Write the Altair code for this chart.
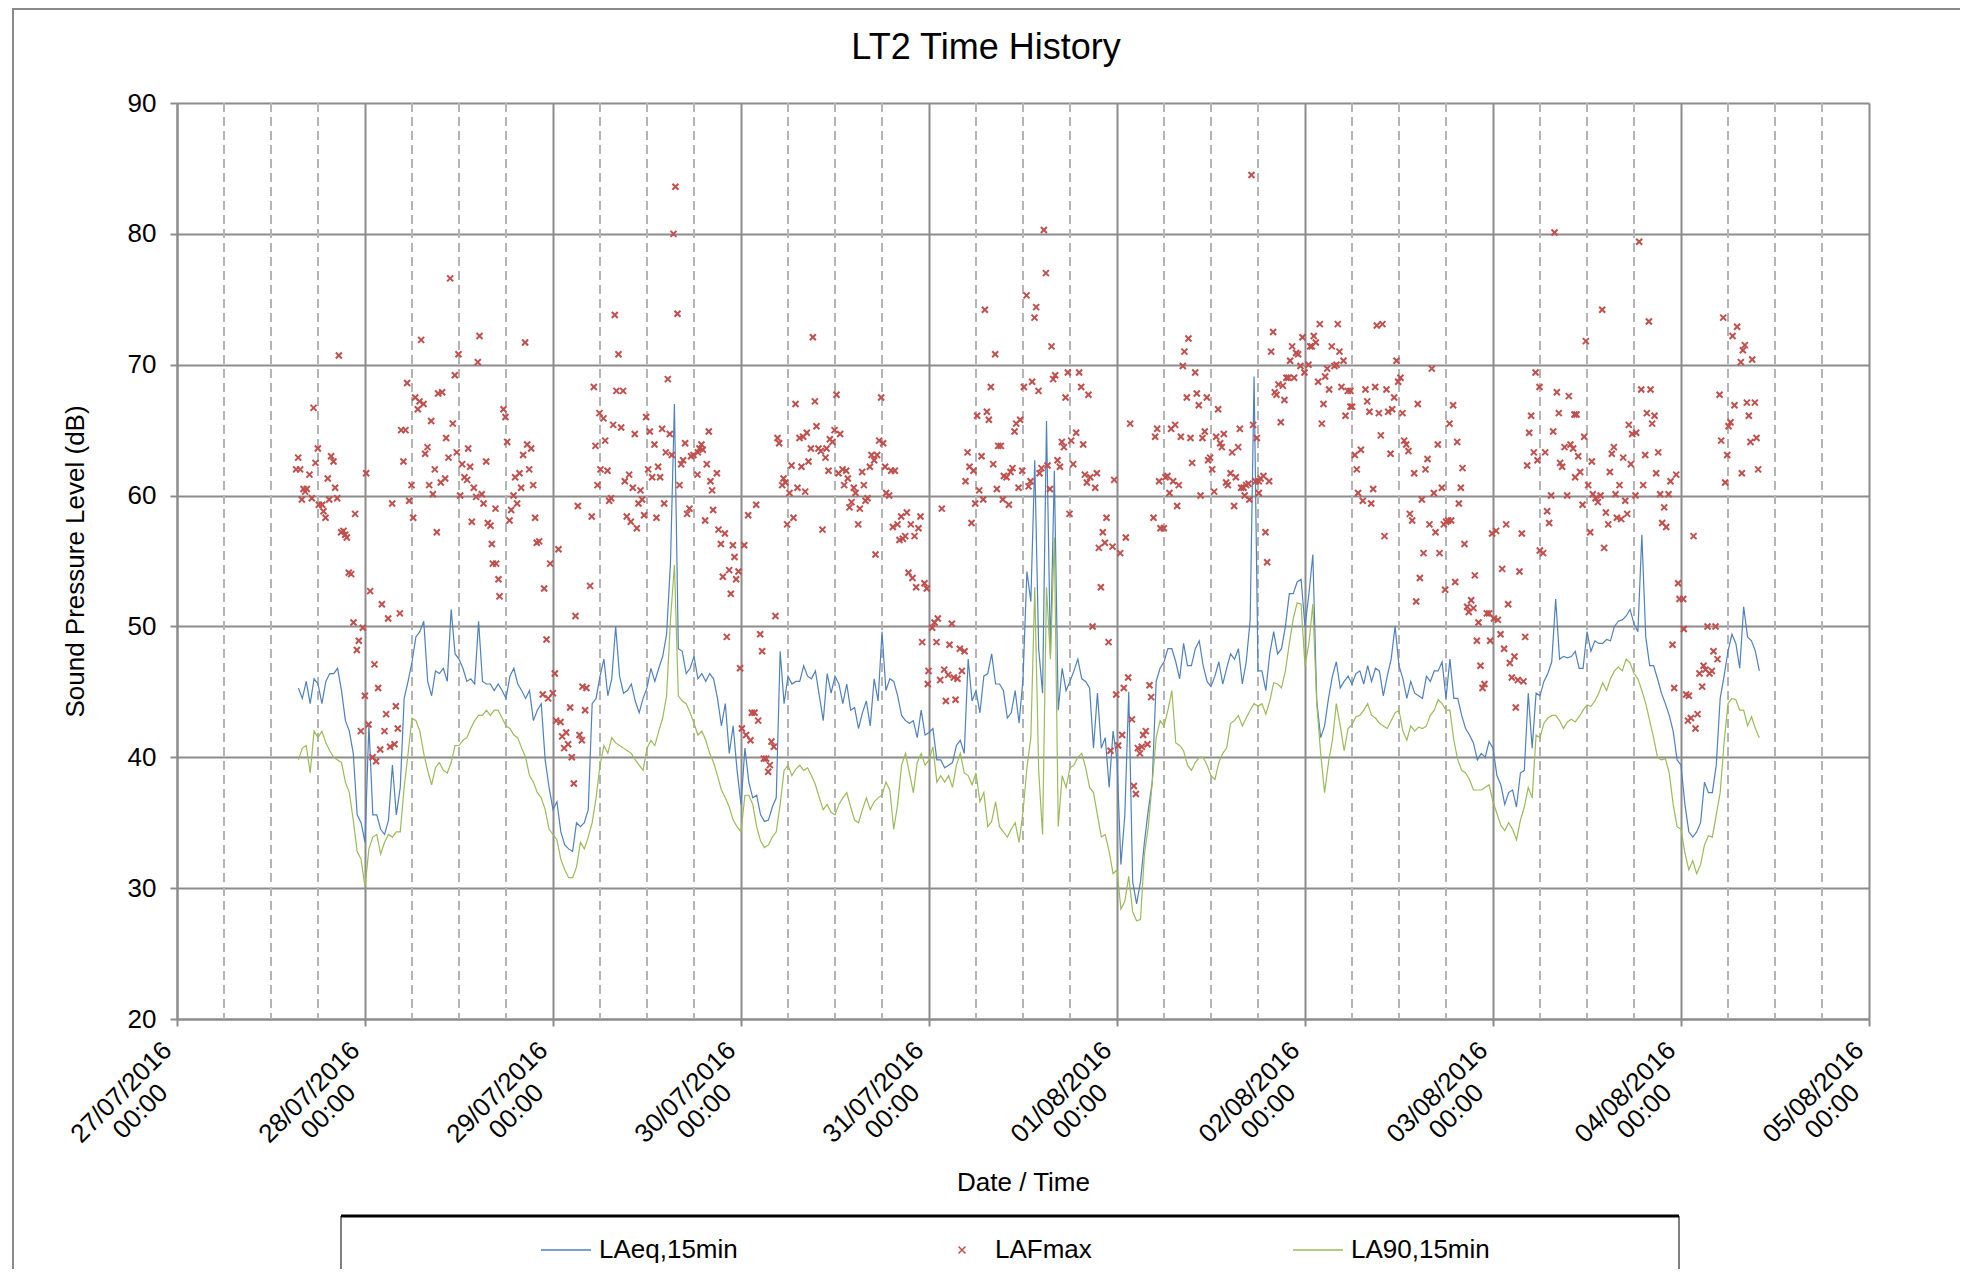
import altair as alt
import pandas as pd

# ---------------- data ----------------
# Line series: one value every 30 minutes, first value at 27/07/2016 15:30
# (hours are counted from 28/07/2016 00:00)
START_HOUR = -8.5
STEP_HOURS = 0.5

LAEQ = [
    45.3, 44.5, 45.8, 44.1, 46.0, 45.6, 44.1, 45.8, 46.4, 46.4, 46.8, 45.1, 42.8, 42.0, 40.3, 35.6, 35.0, 33.5, 42.5, 35.6,
    35.6, 34.5, 34.1, 35.2, 39.4, 35.6, 37.7, 44.5, 45.8, 47.3, 49.2, 49.6, 50.4, 45.8, 44.7, 46.6, 46.4, 46.8, 45.8, 51.3,
    47.9, 47.5, 46.8, 45.8, 46.0, 45.6, 50.4, 45.8, 45.6, 45.6, 45.1,
    45.6, 45.1, 44.5, 46.2, 46.8, 45.6, 45.1, 44.5, 45.1, 42.8, 43.6, 44.1, 39.8, 37.7, 36.0, 36.6, 34.3, 33.3, 33.0, 32.8,
    35.0, 34.7, 35.0, 36.0, 44.1, 44.5, 46.2, 47.5, 44.7, 46.0, 50.0, 46.2, 44.9, 45.1, 45.6, 44.3, 43.4, 44.5, 45.3, 46.8,
    45.8, 46.8, 47.7, 49.4, 54.9, 67.0, 48.3, 48.1, 46.4, 46.8, 47.7, 46.0, 46.4, 45.8, 46.4,
    46.0, 44.5, 42.4, 44.1, 40.3, 42.4, 39.0, 36.4, 40.7, 38.1, 36.9, 37.1, 35.6, 35.1, 35.2, 36.2, 36.9, 48.1, 44.1, 46.2,
    45.6, 45.8, 45.8, 47.0, 46.2, 46.0, 46.6, 44.7, 42.8, 46.4, 44.9, 46.2, 45.6, 44.1, 45.6, 43.6, 43.8, 42.2, 43.4, 44.3,
    42.4, 46.0, 44.3, 49.6, 45.1, 46.0, 45.8, 44.7, 43.2, 42.8, 42.6, 42.8, 41.5, 43.6, 41.7,
    41.9, 42.2, 39.8, 39.8, 39.2, 39.4, 39.6, 40.9, 41.3, 40.3, 47.5, 44.3, 45.1, 43.4, 46.2, 46.4, 47.9, 45.6, 45.6, 45.1,
    43.0, 43.4, 45.1, 42.6, 46.0, 54.2, 51.9, 62.7, 48.3, 44.9, 65.7, 47.9, 61.9, 43.6, 46.8, 45.1, 45.8, 46.6, 47.5, 46.0,
    45.8, 45.3, 40.7, 44.9, 40.7, 41.5, 37.7, 42.0, 39.8, 31.8, 35.6, 45.0, 30.5, 28.8, 30.5,
    33.5, 36.0, 38.1, 45.8, 46.8, 47.3, 48.3, 48.3, 47.3, 46.0, 48.7, 47.0, 47.0, 48.3, 48.9, 47.0, 45.8, 45.4, 46.2, 47.3,
    45.6, 46.8, 47.9, 47.5, 48.3, 45.6, 47.3, 50.5, 69.1, 46.6, 46.6, 45.1, 47.9, 49.6, 47.9, 48.3, 50.0, 52.5, 52.5, 53.4,
    53.6, 50.0, 52.5, 55.5, 44.3, 41.5, 42.4, 44.5, 46.2, 47.3, 45.3, 45.8, 46.2, 45.6, 46.4,
    46.6, 45.6, 47.0, 45.8, 46.8, 46.6, 44.7, 46.2, 47.5, 50.0, 47.0, 46.0, 44.5, 45.8, 44.9, 44.7, 44.5, 46.2, 45.8, 46.6,
    46.6, 47.3, 44.5, 47.5, 44.5, 44.5, 43.2, 42.2, 41.7, 41.1, 39.8, 40.3, 40.0, 41.2, 40.7, 38.6, 37.9, 36.4, 37.3, 37.5,
    36.2, 38.8, 39.0, 44.9, 40.7, 44.9, 44.7, 45.8, 46.4, 47.3, 52.1, 47.5, 47.7, 47.6, 47.7,
    48.1, 46.8, 46.8, 49.6, 48.1, 48.9, 48.7, 48.7, 49.0, 48.9, 50.0, 50.4, 50.5, 50.8, 51.3, 50.2, 49.6, 57.0, 49.2, 47.0,
    47.0, 46.0, 44.9, 44.1, 43.2, 42.0, 39.8, 39.4, 36.4, 34.3, 33.9, 34.3, 35.0, 38.1, 37.3, 37.3, 39.4, 44.5, 46.2, 48.1,
    49.4, 48.7, 46.8, 51.5, 49.2, 48.9, 48.1, 46.6,
]

LA90 = [
    39.8, 40.7, 40.9, 38.8, 42.0, 41.5, 42.0, 41.1, 40.5, 40.0, 39.8, 39.6, 38.1, 37.3, 35.2, 32.8, 32.2, 30.1, 33.0, 33.9,
    34.1, 32.6, 33.5, 34.1, 33.9, 34.3, 34.3, 37.7, 40.3, 43.0, 42.8, 42.0, 40.3, 39.0, 37.9, 39.2, 39.6, 39.0, 38.8, 39.6,
    40.9, 40.9, 41.3, 41.5, 42.2, 42.8, 43.2, 43.2, 43.6, 43.2, 43.6,
    43.6, 43.0, 42.4, 42.2, 41.7, 41.5, 40.7, 40.0, 38.6, 38.1, 37.3, 36.9, 36.0, 34.5, 34.1, 33.7, 32.2, 31.4, 30.8, 30.8,
    31.6, 33.5, 33.0, 33.9, 35.0, 36.9, 39.4, 40.9, 40.3, 41.5, 41.1, 40.9, 40.7, 40.5, 40.3, 39.8, 39.4, 39.0, 40.7, 41.3,
    40.9, 42.0, 43.0, 44.7, 50.5, 54.7, 44.7, 44.3, 44.1, 43.4, 42.6, 41.7, 42.0, 41.3, 40.3,
    39.6, 38.6, 37.5, 36.9, 36.2, 35.2, 34.7, 34.3, 37.1, 37.1, 36.4, 34.7, 33.6, 33.1, 33.3, 33.9, 34.3, 36.4, 39.0, 39.4,
    38.6, 39.1, 39.4, 39.0, 39.2, 38.6, 37.9, 36.9, 36.0, 36.4, 35.8, 35.6, 36.4, 36.9, 37.3, 36.2, 35.2, 35.0, 36.0, 36.9,
    36.0, 36.6, 36.9, 37.1, 38.1, 37.5, 34.5, 36.4, 39.4, 40.3, 38.8, 37.3, 39.6, 40.3, 39.4,
    39.8, 40.8, 38.1, 38.6, 38.1, 38.6, 37.7, 39.4, 40.3, 38.8, 38.6, 37.9, 38.8, 36.6, 37.3, 34.7, 35.1, 36.6, 34.7, 34.3,
    33.9, 34.5, 35.0, 33.5, 35.8, 39.2, 41.5, 53.0, 39.0, 34.1, 53.0, 47.5, 56.8, 34.7, 38.6, 37.7, 39.2, 39.4, 40.0, 40.3,
    39.2, 37.7, 37.3, 35.6, 33.9, 34.1, 32.8, 31.1, 31.4, 28.4, 29.0, 30.9, 28.2, 27.5, 27.6,
    32.6, 34.7, 38.1, 41.5, 42.8, 42.4, 43.6, 45.1, 41.1, 40.9, 40.5, 39.4, 39.0, 39.6, 40.0, 40.0, 39.4, 38.6, 38.3, 39.6,
    40.3, 40.7, 42.6, 42.8, 43.2, 42.4, 43.0, 43.6, 44.1, 43.9, 44.1, 43.3, 44.3, 45.7, 45.6, 45.3, 46.6, 48.7, 50.6, 51.8,
    51.7, 47.0, 48.7, 51.7, 44.1, 40.3, 37.3, 39.6, 41.3, 44.1, 42.4, 40.5, 42.2, 42.5, 43.1,
    43.2, 43.6, 44.1, 43.2, 43.0, 42.6, 42.4, 42.2, 42.8, 43.4, 43.6, 42.0, 41.3, 42.4, 42.0, 42.3, 42.2, 42.4, 43.2, 43.6,
    44.4, 44.1, 43.6, 43.6, 41.3, 39.8, 39.0, 38.8, 38.3, 37.5, 37.5, 37.5, 37.7, 37.9, 36.6, 35.7, 34.8, 34.4, 35.0, 34.5,
    33.7, 35.2, 36.2, 37.7, 36.9, 41.7, 41.5, 42.6, 43.0, 43.2, 43.2, 42.8, 42.2, 42.7, 42.9,
    42.7, 43.1, 43.6, 44.0, 43.9, 44.3, 44.9, 45.7, 45.1, 46.0, 46.6, 46.9, 46.6, 47.5, 47.2, 46.4, 46.0, 45.1, 44.1, 42.8,
    41.5, 40.0, 39.8, 39.9, 38.8, 36.4, 34.7, 34.5, 32.7, 31.4, 32.1, 31.1, 31.8, 33.3, 34.0, 33.9, 35.6, 37.3, 41.1, 44.1,
    44.5, 44.4, 43.6, 43.6, 42.4, 43.1, 42.2, 41.5,
]

# LAFmax readings: (hours from 28/07/2016 00:00, dB)
LAFMAX_27_28 = [
    (10.87, 76.6), (7.17, 71.9), (14.62, 72.2), (-3.34, 70.7), (11.93, 70.8), (14.40, 70.2), (11.47, 69.2), (5.38, 68.6),
    (6.40, 67.5), (6.96, 67.2), (6.74, 66.6), (7.47, 67.0), (9.34, 67.8), (9.85, 67.9), (-6.57, 66.7), (8.45, 65.7),
    (11.21, 65.5), (4.62, 65.0), (5.17, 65.0), (10.36, 64.4), (7.98, 63.7), (7.68, 63.2), (-6.02, 63.6), (-8.53, 62.9),
    (-6.32, 62.5), (-4.32, 63.0), (-4.02, 62.6), (11.72, 63.3), (13.17, 63.6), (10.66, 62.9), (4.91, 62.6), (15.47, 62.6),
    (-8.79, 62.0), (-8.28, 62.0), (8.91, 62.0), (-7.09, 61.6), (-4.75, 61.3), (10.23, 61.3), (9.68, 61.0), (12.40, 62.4),
    (13.42, 62.2), (12.70, 61.4), (13.04, 61.2), (5.94, 60.8), (8.19, 60.8), (-7.85, 60.5), (-7.43, 60.5), (-3.81, 60.6),
    (13.89, 60.6), (14.91, 60.1), (8.66, 60.1), (12.15, 60.0), (-7.64, 60.3), (-6.79, 59.8), (-8.06, 59.7), (-4.57, 59.7),
    (-3.55, 59.8), (5.64, 59.6), (14.19, 59.9), (15.13, 59.4), (3.47, 59.4), (16.66, 59.0), (-5.89, 59.3), (-5.47, 59.3),
    (-5.30, 58.8), (-5.04, 58.3), (-1.26, 58.6), (6.15, 58.3), (13.64, 58.0), (15.68, 57.9), (16.02, 57.7), (9.17, 57.2),
    (-3.04, 57.2), (-2.75, 57.3), (-2.53, 57.0), (-2.32, 56.8), (16.19, 56.3), (16.32, 54.8), (16.74, 54.8), (17.04, 53.6),
    (-2.07, 54.1), (-1.77, 54.0), (0.15, 61.7), (0.66, 52.7), (2.15, 51.7), (2.96, 50.6), (4.45, 51.0), (-1.47, 50.3),
    (-0.28, 49.9), (-0.79, 48.9), (-1.04, 48.2), (1.21, 47.1), (1.68, 45.3), (-0.02, 44.7), (2.70, 43.3), (3.94, 43.9),
    (0.45, 42.5), (-0.53, 42.0), (2.49, 42.0), (4.19, 42.2), (3.77, 41.0), (3.21, 40.8), (1.94, 40.6), (0.96, 40.0),
    (1.42, 39.7), (17.17, 52.3),
]
LAFMAX_29 = [
    (39.63, 83.6), (39.38, 80.0), (39.89, 73.9), (20.44, 71.7), (31.89, 73.8), (32.36, 70.8), (38.66, 68.9), (29.21, 68.3),
    (32.10, 68.0), (32.95, 68.0), (17.68, 66.6), (17.93, 66.0), (29.93, 66.3), (30.44, 65.9), (35.89, 66.0), (31.68, 65.4),
    (32.70, 65.2), (34.44, 64.7), (36.36, 64.9), (37.93, 65.1), (38.91, 64.7), (43.89, 64.9), (18.15, 64.1), (30.66, 64.2),
    (29.42, 63.8), (36.95, 63.9), (20.70, 63.9), (21.21, 63.6), (40.87, 64.0), (38.40, 63.3), (39.17, 63.1), (20.19, 63.1),
    (42.95, 63.9), (42.70, 63.6), (42.49, 63.3), (43.12, 63.5), (41.63, 63.0), (41.93, 63.1), (40.61, 62.7), (40.36, 62.4),
    (43.63, 62.4), (20.96, 62.0), (19.72, 61.7), (30.06, 62.0), (30.95, 61.9), (36.15, 62.0), (19.17, 61.4), (33.72, 61.6),
    (33.17, 61.1), (36.66, 61.4), (37.68, 61.4), (37.42, 62.2), (42.44, 61.6), (44.10, 61.1), (21.47, 60.8), (19.93, 60.6),
    (29.68, 60.8), (34.19, 60.6), (35.17, 60.4), (44.31, 60.4), (40.15, 60.8), (18.96, 60.0), (19.42, 59.4), (18.66, 58.9),
    (18.45, 58.1), (31.42, 59.8), (31.17, 59.6), (34.91, 59.4), (35.38, 59.7), (38.19, 59.4), (27.17, 59.2), (28.95, 58.4),
    (33.42, 58.4), (33.93, 58.0), (34.70, 57.5), (35.63, 58.5), (37.21, 58.3), (41.42, 59.0), (41.12, 58.6), (43.42, 58.1),
    (44.44, 58.9), (21.72, 58.3), (21.93, 56.4), (22.23, 56.5), (24.70, 55.9), (23.64, 54.8), (22.87, 52.9), (28.74, 53.1),
    (26.87, 50.8), (23.17, 49.0), (24.23, 46.4), (22.70, 44.8), (23.38, 44.5), (23.98, 44.9), (27.76, 45.4), (28.27, 45.3),
    (28.10, 43.6), (24.40, 42.8), (24.96, 42.7), (26.19, 43.8), (25.68, 41.9), (25.17, 41.6), (25.93, 41.0), (25.42, 40.7),
    (27.38, 41.7), (27.68, 41.3), (26.40, 40.0), (26.66, 38.0),
]
LAFMAX_30 = [
    (57.17, 72.1), (60.19, 67.7), (65.89, 67.5), (54.96, 67.0), (57.43, 67.2), (52.66, 64.4), (52.87, 64.0), (57.64, 65.3),
    (55.47, 64.4), (55.94, 64.5), (56.40, 64.8), (59.34, 64.3), (59.94, 65.0), (60.66, 64.7), (59.68, 64.1), (56.92, 63.6),
    (57.89, 63.6), (58.19, 63.4), (58.92, 63.6), (58.79, 62.9), (56.62, 62.6), (64.66, 63.1), (65.00, 62.7), (65.38, 63.1),
    (65.64, 64.2), (66.15, 64.0), (66.40, 62.2), (54.45, 62.3), (55.72, 62.2), (44.92, 61.7), (59.17, 61.9), (60.45, 61.7),
    (60.96, 62.0), (61.43, 61.9), (63.47, 61.8), (67.17, 61.9), (67.64, 61.9), (64.45, 62.2), (53.43, 61.3), (53.26, 60.8),
    (53.68, 61.0), (55.21, 60.6), (61.17, 60.8), (61.64, 61.3), (62.40, 60.6), (63.68, 60.8), (54.19, 60.2), (56.19, 60.3),
    (62.62, 60.2), (62.11, 59.5), (61.85, 59.1), (63.17, 59.0), (64.15, 59.8), (63.89, 59.6), (66.53, 60.2), (66.91, 60.0),
    (62.96, 57.8), (53.89, 57.8), (54.70, 58.3), (58.40, 57.4), (49.94, 59.3), (48.92, 58.5), (45.13, 57.4), (45.94, 57.1),
    (45.43, 56.3), (46.96, 56.2), (48.41, 56.2), (47.17, 55.3), (46.49, 54.3), (47.68, 54.2), (47.38, 53.6), (45.68, 53.8),
    (46.70, 52.5), (65.17, 55.5), (67.38, 57.6), (67.98, 57.8), (68.45, 58.4), (69.17, 58.7), (69.68, 57.8), (68.23, 56.6),
    (68.66, 56.7), (68.96, 56.9), (70.15, 56.9), (70.66, 57.5), (70.91, 58.4), (69.38, 54.1), (69.89, 53.7), (70.36, 53.0),
    (71.42, 53.3), (71.72, 52.9), (52.40, 50.8), (46.19, 49.2), (50.45, 49.4), (50.70, 48.1), (47.89, 46.8), (71.13, 48.8),
    (71.94, 46.6), (71.85, 45.6), (48.11, 42.2), (48.66, 41.7), (49.21, 41.3), (49.38, 43.4), (49.72, 43.4), (50.19, 42.8),
    (51.89, 41.2), (52.19, 40.8), (50.92, 39.9), (51.21, 39.9), (51.68, 39.4), (51.47, 38.9),
]
LAFMAX_31 = [
    (86.66, 80.3), (86.92, 77.0), (79.13, 74.2), (84.45, 75.3), (85.68, 74.4), (85.47, 73.6), (87.64, 71.4), (80.45, 70.8),
    (79.90, 68.3), (84.11, 68.3), (85.17, 68.7), (85.98, 68.0), (87.85, 68.9), (88.11, 69.2), (89.73, 69.4), (91.17, 69.4),
    (91.43, 68.3), (92.36, 67.7), (89.43, 67.5), (79.39, 66.4), (79.64, 65.8), (78.15, 66.1), (82.92, 64.9), (83.13, 65.5),
    (83.64, 65.8), (90.15, 64.2), (90.79, 64.8), (88.96, 64.1), (89.22, 63.7), (91.68, 63.9), (76.92, 63.3), (78.71, 63.0),
    (80.83, 63.8), (81.17, 63.8), (77.17, 62.2), (77.68, 61.9), (80.20, 62.4), (82.66, 62.1), (82.41, 61.8), (81.56, 61.5),
    (81.90, 61.4), (88.41, 62.7), (88.71, 62.2), (90.41, 62.4), (86.36, 62.1), (86.11, 61.7), (87.13, 62.3), (83.90, 61.9),
    (76.66, 61.1), (78.41, 60.4), (80.66, 60.5), (83.43, 60.6), (84.71, 60.7), (84.96, 61.1), (87.43, 60.5), (91.90, 61.6),
    (92.58, 61.4), (92.15, 61.0), (93.43, 61.7), (93.22, 60.6), (95.64, 61.2), (78.92, 59.7), (77.90, 59.4), (81.43, 59.7),
    (82.20, 59.3), (73.64, 59.0), (77.43, 57.9), (89.94, 58.6), (94.66, 58.3), (94.19, 57.2), (94.45, 56.4), (93.68, 56.0),
    (95.43, 56.1), (96.41, 55.6), (97.13, 56.8), (97.68, 65.5), (93.94, 53.0), (73.13, 50.6), (72.71, 50.3), (72.41, 49.9),
    (74.92, 50.2), (72.96, 48.8), (74.62, 48.6), (75.94, 48.3), (76.54, 48.1), (92.88, 50.0), (94.92, 48.8), (73.94, 46.7),
    (76.20, 46.6), (74.45, 46.3), (75.17, 46.1), (75.64, 46.0), (73.43, 45.9), (74.15, 44.3), (75.39, 44.4), (97.43, 46.1),
    (96.87, 45.3), (95.90, 44.8), (97.90, 42.9), (96.66, 41.7), (96.15, 40.9), (95.17, 40.5), (98.66, 40.7), (99.17, 40.8),
    (98.92, 40.3), (99.34, 41.7), (98.15, 37.8), (98.41, 37.2),
]
LAFMAX_01 = [
    (113.17, 84.5), (115.93, 72.5), (115.68, 71.0), (121.89, 73.1), (124.19, 73.1), (119.68, 72.1), (121.12, 72.2),
    (121.38, 71.7), (120.66, 71.4), (120.87, 71.4), (118.36, 71.4), (118.87, 70.9), (119.12, 70.8), (123.42, 71.4),
    (124.40, 71.0), (118.10, 70.3), (119.42, 69.9), (119.93, 69.4), (120.44, 70.0), (123.76, 69.9), (124.02, 70.0),
    (124.91, 70.3), (104.40, 69.9), (104.61, 71.0), (105.12, 72.0), (105.98, 69.4), (122.83, 69.7), (122.57, 69.1),
    (121.68, 68.7), (117.63, 69.0), (117.89, 69.0), (118.61, 69.0), (116.61, 68.5), (117.17, 68.4), (116.14, 67.9),
    (116.36, 67.7), (117.38, 67.3), (123.08, 68.1), (124.66, 68.3), (125.46, 68.0), (125.80, 68.0), (104.91, 67.5),
    (106.19, 67.8), (107.47, 67.5), (106.44, 66.9), (108.91, 66.6), (122.36, 67.0), (125.80, 66.8), (126.02, 66.8),
    (125.17, 66.1), (116.91, 65.6), (122.15, 65.5), (113.38, 65.4), (101.13, 65.1), (100.87, 64.5), (102.91, 65.1),
    (103.42, 65.4), (104.15, 64.5), (105.38, 64.4), (106.91, 64.4), (107.21, 64.9), (108.66, 64.5), (109.64, 64.7),
    (109.17, 64.0), (109.38, 63.7), (111.68, 65.1), (111.47, 63.7), (113.85, 64.4), (110.70, 63.3), (126.36, 63.1),
    (126.61, 62.0), (105.59, 62.5), (107.89, 62.9), (107.64, 62.7), (108.15, 62.0), (110.49, 61.7), (111.17, 61.4),
    (101.38, 61.1), (102.19, 61.4), (102.44, 61.5), (103.17, 61.1), (103.89, 60.8), (109.93, 61.0), (110.15, 60.8),
    (111.85, 60.6), (112.15, 60.6), (112.49, 60.8), (112.78, 60.9), (113.68, 61.1), (114.10, 61.1), (114.32, 61.3),
    (114.70, 61.5), (115.42, 61.1), (102.70, 60.2), (106.66, 60.0), (108.40, 60.3), (112.30, 60.0), (112.91, 59.7),
    (114.10, 60.2), (126.78, 60.2), (103.68, 59.2), (110.95, 59.2), (100.66, 58.3), (101.55, 57.5), (101.98, 57.5),
    (114.95, 57.2), (115.17, 54.9), (100.15, 45.5), (100.36, 44.6), (99.68, 42.0), (99.89, 41.0),
]
LAFMAX_02 = [
    (151.85, 80.1), (129.17, 73.0), (129.89, 73.1), (131.68, 70.3), (136.19, 69.7), (149.43, 69.4), (131.89, 68.7),
    (132.19, 69.0), (149.94, 68.3), (127.72, 68.1), (128.96, 68.3), (130.40, 68.1), (152.15, 67.9), (153.68, 67.6),
    (127.94, 67.2), (134.40, 67.0), (138.91, 66.9), (131.38, 67.5), (128.23, 66.4), (129.43, 66.3), (130.62, 66.4),
    (131.13, 66.6), (132.45, 66.3), (148.87, 66.1), (152.40, 66.3), (154.40, 66.2), (138.45, 65.5), (129.68, 64.6),
    (148.62, 64.8), (151.68, 64.9), (132.66, 64.2), (132.92, 63.9), (133.21, 63.4), (139.43, 64.1), (136.96, 63.9),
    (130.92, 63.2), (127.13, 63.5), (149.21, 63.3), (150.66, 63.3), (149.68, 62.7), (153.13, 63.7), (153.89, 63.9),
    (154.23, 63.6), (135.64, 62.8), (152.57, 62.5), (152.83, 62.2), (140.11, 62.1), (135.38, 62.0), (133.94, 61.7),
    (148.36, 62.3), (154.49, 61.4), (137.47, 60.6), (139.89, 60.6), (136.45, 60.2), (128.70, 60.5), (127.38, 59.6),
    (128.45, 59.4), (151.42, 60.0), (153.47, 60.0), (134.92, 59.7), (139.64, 59.4), (150.91, 58.8), (151.17, 57.9),
    (133.38, 58.6), (133.68, 58.1), (135.89, 57.8), (138.66, 58.1), (138.28, 58.1), (138.02, 58.0), (137.72, 57.8),
    (136.66, 57.2), (130.15, 56.9), (143.89, 57.1), (144.40, 57.3), (145.68, 57.8), (147.68, 57.1), (140.36, 56.3),
    (135.13, 55.6), (137.17, 55.6), (149.98, 55.8), (150.40, 55.6), (145.17, 54.4), (147.38, 54.2), (141.68, 53.9),
    (134.66, 53.7), (139.17, 53.4), (137.89, 52.8), (134.19, 51.9), (141.21, 52.0), (140.70, 51.5), (140.91, 51.1),
    (141.51, 51.4), (145.94, 51.7), (143.21, 51.0), (143.51, 51.0), (144.11, 50.6), (144.62, 50.5), (142.15, 50.3),
    (144.96, 49.4), (141.94, 48.9), (143.64, 48.9), (148.11, 49.2), (145.42, 48.3), (146.74, 47.7), (146.15, 47.2),
    (142.40, 47.0), (142.91, 45.6), (142.66, 45.3), (146.40, 46.1), (147.17, 45.9), (147.89, 45.8), (146.91, 43.8),
]
LAFMAX_03_04 = [
    (162.66, 79.4), (157.94, 74.2), (163.90, 73.3), (155.85, 71.8), (173.39, 73.6), (174.58, 72.2), (175.17, 72.9),
    (176.15, 71.5), (175.90, 71.1), (175.64, 70.2), (177.09, 70.4), (162.92, 68.1), (164.11, 68.1), (172.92, 67.7),
    (174.83, 66.9), (176.41, 67.1), (177.43, 67.1), (154.66, 66.2), (163.64, 66.3), (164.62, 66.1), (176.66, 66.1),
    (161.34, 65.4), (161.77, 64.7), (162.28, 64.8), (164.32, 65.5), (174.32, 65.6), (174.07, 65.3), (155.64, 64.5),
    (173.13, 64.2), (176.87, 64.1), (177.64, 64.4), (159.43, 63.7), (159.17, 63.2), (154.88, 63.0), (160.62, 62.9),
    (163.43, 63.1), (165.09, 63.3), (161.60, 62.4), (156.62, 62.6), (173.90, 63.1), (175.77, 61.7), (155.13, 61.8),
    (158.92, 61.8), (164.83, 61.7), (167.39, 61.6), (166.66, 61.1), (173.64, 61.0), (177.85, 62.0), (156.15, 60.8),
    (160.15, 60.8), (163.17, 60.8), (156.75, 60.1), (157.09, 59.8), (157.39, 59.5), (157.73, 60.0), (159.64, 60.1),
    (162.19, 60.0), (165.34, 60.1), (166.41, 60.1), (160.88, 59.6), (155.43, 59.3), (158.41, 58.7), (161.13, 58.6),
    (159.81, 58.3), (160.37, 58.2), (165.85, 59.1), (158.71, 57.8), (165.60, 57.9), (166.11, 57.6), (156.41, 57.2),
    (158.19, 56.0), (169.60, 56.9), (167.64, 53.3), (167.81, 52.1), (168.28, 52.1), (168.36, 49.8), (166.92, 48.6),
    (167.13, 45.3), (171.39, 50.0), (172.41, 50.0), (172.15, 48.1), (172.66, 47.5), (170.88, 47.0), (171.13, 46.7),
    (170.36, 46.4), (171.64, 46.4), (171.94, 46.6), (170.70, 45.4), (168.66, 44.8), (169.00, 44.7), (170.11, 43.3),
    (169.26, 43.0), (168.88, 42.8), (169.85, 42.2),
]

TITLE = "LT2 Time History"
SERIES = ["LAeq,15min", "LAFmax", "LA90,15min"]
COLORS = ["#4F81BD", "#C0504D", "#9BBB59"]
Y_TICKS = [20, 30, 40, 50, 60, 70, 80, 90]
FIRST_DAY, LAST_DAY = -1, 8          # 27/07/2016 ... 05/08/2016 (days from 28/07)

# ---------------- tables ----------------
H_MS = 3600000
BASE_MS = int(pd.Timestamp("2016-07-28T00:00:00Z").value // 10**6)

n = len(LAEQ)
assert n == len(LA90)
hours = [START_HOUR + i * STEP_HOURS for i in range(n)]
laeq_df = pd.DataFrame({"ms": [BASE_MS + h * H_MS for h in hours], "dB": LAEQ, "series": SERIES[0]})
la90_df = pd.DataFrame({"ms": [BASE_MS + h * H_MS for h in hours], "dB": LA90, "series": SERIES[2]})

fmax = LAFMAX_27_28 + LAFMAX_29 + LAFMAX_30 + LAFMAX_31 + LAFMAX_01 + LAFMAX_02 + LAFMAX_03_04
fmax_df = pd.DataFrame({"ms": [BASE_MS + h * H_MS for h, _ in fmax],
                        "dB": [v for _, v in fmax], "series": SERIES[1]})

day_ms = [BASE_MS + d * 24 * H_MS for d in range(FIRST_DAY, LAST_DAY + 1)]
six_hour_df = pd.DataFrame({"ms": [BASE_MS + h * H_MS
                                   for h in range(FIRST_DAY * 24, LAST_DAY * 24, 6) if h % 24 != 0]})

# ---------------- styling ----------------
FONT = "Liberation Sans"
GRID = "#8c8c8c"
XPATH = "M-0.14,-0.14L0.14,0.14M-0.14,0.14L0.14,-0.14"

x_scale = alt.Scale(domain=[day_ms[0], day_ms[-1]], nice=False, zero=False)
y_scale = alt.Scale(domain=[20, 90], nice=False, zero=False)

x_axis = alt.Axis(
    values=day_ms,
    labelExpr="[utcFormat(datum.value, '%d/%m/%Y'), utcFormat(datum.value, '%H:%M')]",
    labelAngle=315, labelAlign="center", labelBaseline="middle",
    labelOffset=-56, labelPadding=66, labelLineHeight=27,
    labelFont=FONT, labelFontSize=26, labelColor="black", labelOverlap=False, labelFlush=False,
    grid=True, gridColor=GRID, gridWidth=2,
    tickSize=7, tickColor=GRID, tickWidth=2,
    domainColor=GRID, domainWidth=2,
    title="Date / Time", titleFont=FONT, titleFontSize=26, titleFontWeight="normal",
    titleColor="black", titlePadding=3,
)
y_axis = alt.Axis(
    values=Y_TICKS, labelFont=FONT, labelFontSize=26, labelColor="black", labelPadding=14,
    grid=True, gridColor=GRID, gridWidth=2,
    tickSize=7, tickColor=GRID, tickWidth=2, domainColor=GRID, domainWidth=2,
    title="Sound Pressure Level (dB)", titleFont=FONT, titleFontSize=26, titleFontWeight="normal",
    titleColor="black", titlePadding=39,
)

legend = alt.Legend(
    orient="none", legendX=363, legendY=1121, direction="horizontal", title=None,
    labelFont=FONT, labelFontSize=26, labelColor="black", labelOffset=7,
    symbolSize=2500, symbolStrokeWidth=1.5, columnPadding=198, padding=0,
)
color = alt.Color("series:N", scale=alt.Scale(domain=SERIES, range=COLORS), legend=legend)
shape = alt.Shape("series:N", scale=alt.Scale(domain=SERIES, range=["stroke", XPATH, "stroke"]), legend=legend)

X = alt.X("ms:Q", scale=x_scale, axis=x_axis)
Y = alt.Y("dB:Q", scale=y_scale, axis=y_axis)

six_hour = alt.Chart(six_hour_df).mark_rule(color="#b4b4b4", strokeWidth=2, strokeDash=[9, 5]).encode(
    x=alt.X("ms:Q", scale=x_scale))

laeq = alt.Chart(laeq_df).mark_line(strokeWidth=1.2).encode(x=X, y=Y, color=color)
la90 = alt.Chart(la90_df).mark_line(strokeWidth=1.2).encode(x=X, y=Y, color=color)
lafmax = alt.Chart(fmax_df).mark_point(filled=False, size=1840, strokeWidth=2, opacity=1).encode(
    x=X, y=Y, color=color, shape=shape)

one = pd.DataFrame({"k": [0]})
frame_left = alt.Chart(one).mark_rule(color="#8a8a8a", strokeWidth=2).encode(
    x=alt.value(-164), y=alt.value(-95), y2=alt.value(1300))
frame_top = alt.Chart(one).mark_rule(color="#8a8a8a", strokeWidth=2).encode(
    x=alt.value(-164), x2=alt.value(1800), y=alt.value(-94))
legend_box = alt.Chart(one).mark_rect(fill="white", stroke="black", strokeWidth=1).encode(
    x=alt.value(164), x2=alt.value(1502), y=alt.value(1113), y2=alt.value(1400))
legend_top = alt.Chart(one).mark_rule(color="black", strokeWidth=3).encode(
    x=alt.value(164), x2=alt.value(1502), y=alt.value(1113))
title = alt.Chart(one).mark_text(
    text=TITLE, font=FONT, fontSize=36, color="black", align="center", baseline="middle"
).encode(x=alt.value(809), y=alt.value(-55))

chart = alt.layer(
    legend_box, legend_top, frame_left, frame_top, title, six_hour, laeq, lafmax, la90
).properties(
    width=1692, height=916,
    autosize=alt.AutoSizeParams(type="none"),
    padding={"left": 169, "top": 95, "right": 91, "bottom": 250},
    background="white",
).configure_view(stroke=None)

chart.save("out.html", embed_options={"renderer": "svg", "actions": False})
